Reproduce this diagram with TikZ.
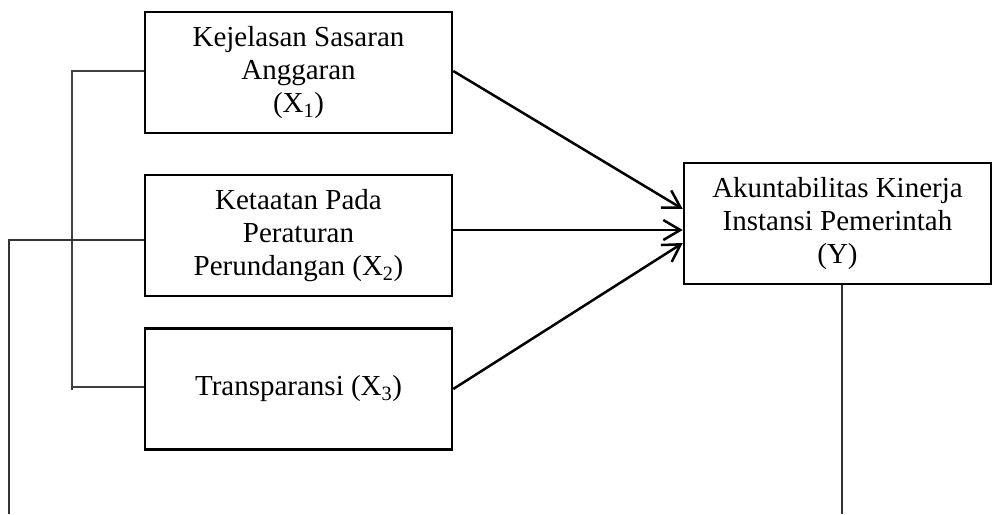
\documentclass[tikz,border=0pt]{standalone}
\usepackage{fontspec}
\setmainfont{Liberation Serif}
\usetikzlibrary{arrows.meta}
\begin{document}
\begin{tikzpicture}[x=1pt,y=-1pt,
  varbox/.style={draw, line width=2.5pt, minimum width=307pt, minimum height=121pt,
    inner sep=0pt, align=center, font=\fontsize{29}{33}\selectfont},
  arr/.style={line width=2.5pt, -{Straight Barb[length=17pt,width=20pt]}},
  thin/.style={line width=1.2pt, draw=black!75},
  mid/.style={line width=1.7pt, draw=black!80}]
\useasboundingbox (0,0) rectangle (992,514);
\node[varbox] (x1) at (298.5,72.5) {Kejelasan Sasaran\\Anggaran\\(X\textsubscript{1})};
\node[varbox] (x2) at (298.5,235.5) {Ketaatan Pada\\Peraturan\\Perundangan (X\textsubscript{2})};
\node[varbox] (x3) at (298.5,389) {Transparansi (X\textsubscript{3})};
\node[varbox] (y) at (837.5,223.5) {Akuntabilitas Kinerja\\Instansi Pemerintah\\(Y)};
\coordinate (bt) at (72,71);
\coordinate (bb) at (72,387);
\coordinate (bend) at (72,390);
\coordinate (ot) at (9,240);
\coordinate (ob) at (9,514);
\coordinate (yb) at (842,514);
\draw[arr] ([yshift=1.5pt]x1.east) -- ([yshift=14.5pt]y.west);
\draw[arr] ([yshift=5.5pt]x2.east) -- ([yshift=-6.5pt]y.west);
\draw[arr] (x3.east) -- ([yshift=-19.5pt]y.west);
\draw[thin] ([yshift=1.5pt]x1.west) -- (bt) -- (bend);
\draw[thin] ([yshift=2pt]x3.west) -- (bb);
\draw[mid] ([yshift=-4.5pt]x2.west) -- (ot) -- (ob);
\draw[mid] ([xshift=4.5pt]y.south) -- (yb);
\end{tikzpicture}
\end{document}
